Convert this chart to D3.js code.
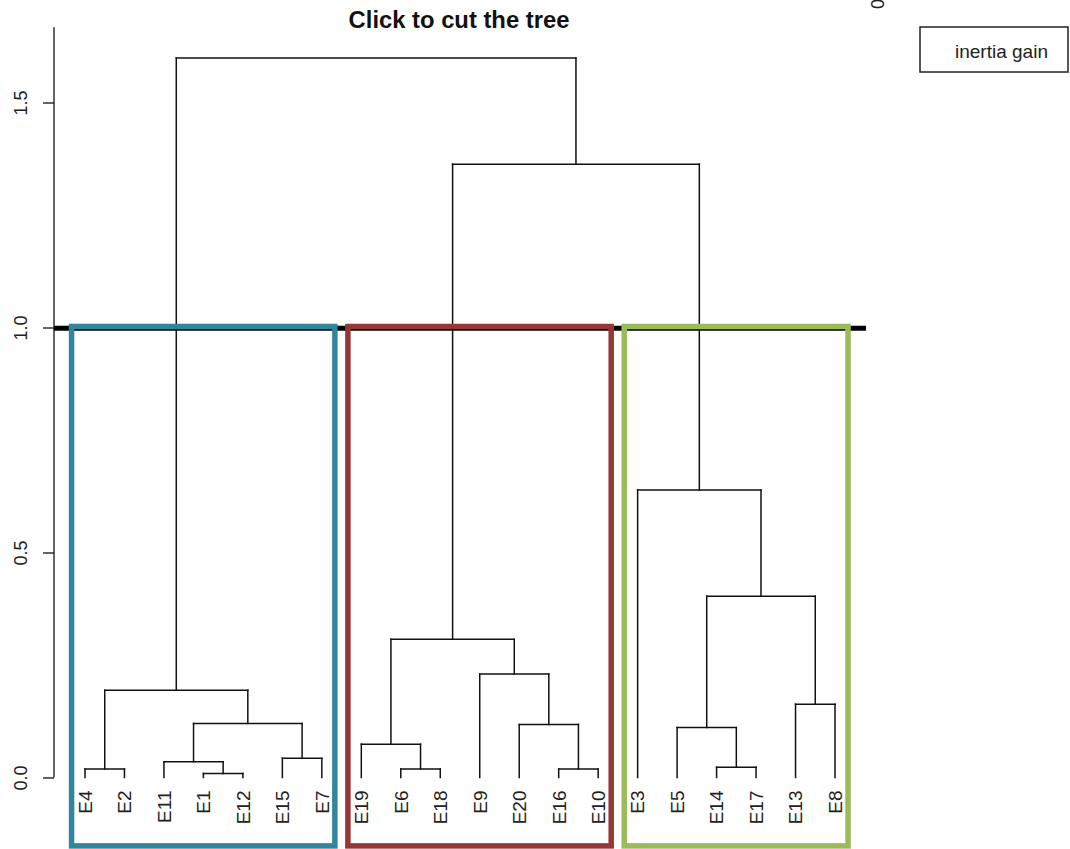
<!DOCTYPE html>
<html>
<head>
<meta charset="utf-8">
<script src="https://cdn.jsdelivr.net/npm/d3@7"></script>
<style>
  html, body { margin: 0; padding: 0; background: #fff; }
  svg { display: block; font-family: "Liberation Sans", Arial, sans-serif; }
</style>
</head>
<body>
<svg id="chart" width="1070" height="849"></svg>
<script>
// ---------- data ----------
const title = "Click to cut the tree";
const leaves = ["E4","E2","E11","E1","E12","E15","E7","E19","E6","E18","E9","E20","E16","E10","E3","E5","E14","E17","E13","E8"];
// merge table (R hclust style): children are leaf names or merge ids "n#"
const mergeIds    = ["n1","n2","n3","n4","n5","n6","n7","n8","n9","n10","n11","n12","n13","n14","n15","n16","n17","n18","n19"];
const mergeLeft   = ["E1","E6","E16","E4","E14","E11","E15","E19","E5","E20","n6","E13","n4","E9","n8","n9","E3","n15","n13"];
const mergeRight  = ["E12","E18","E10","E2","E17","n1","E7","n2","n5","n3","n7","E8","n11","n10","n14","n12","n16","n17","n18"];
const mergeHeight = [0.009,0.019,0.019,0.019,0.023,0.035,0.043,0.074,0.111,0.118,0.120,0.163,0.194,0.230,0.307,0.403,0.639,1.363,1.599];
const yTicks = [0.0, 0.5, 1.0, 1.5];
const cutHeight = 1.0;
const clusterFirst  = ["E4","E19","E3"];
const clusterLast   = ["E7","E10","E8"];
const clusterColors = ["#31859C","#953735","#9BBB59"];
const legendLabels  = ["inertia gain"];

// ---------- scales ----------
const svg = d3.select("#chart");
const plotLeft = 54, plotRight = 866;
const x = d3.scaleLinear().domain([-0.785, leaves.length - 1 + 0.785]).range([plotLeft, plotRight]);
const y = d3.scaleLinear().domain([0, 1]).range([777.5, 327.5]);
const yTop = 1.667, yBottom = -0.152;

// ---------- title ----------
svg.append("text")
  .attr("x", (plotLeft + plotRight) / 2 - 1).attr("y", 28)
  .attr("text-anchor", "middle")
  .attr("font-weight", "bold").attr("font-size", 23.8)
  .attr("fill", "#111")
  .text(title);

// ---------- y axis ----------
const yAxis = d3.axisLeft(y).tickValues(yTicks).tickFormat(d3.format(".1f")).tickSize(11).tickPadding(0);
const ga = svg.append("g").attr("transform", `translate(${plotLeft},0)`).call(yAxis);
ga.select(".domain").remove();
ga.selectAll(".tick line").attr("stroke", "#222").attr("stroke-width", 1.4);
ga.selectAll(".tick text").remove();
ga.append("line").attr("x1", 0).attr("x2", 0).attr("y1", y(yTop)).attr("y2", y(0))
  .attr("stroke", "#222").attr("stroke-width", 1.4);
ga.selectAll(".tick").append("text")
  .attr("transform", "translate(-33,0) rotate(-90)")
  .attr("text-anchor", "middle").attr("dy", "0.35em")
  .attr("font-size", 18).attr("fill", "#222").attr("font-family", "Liberation Sans, Arial, sans-serif")
  .text(d => d3.format(".1f")(d));

// ---------- dendrogram ----------
const pos = {};
leaves.forEach((l, i) => pos[l] = { x: i, h: 0 });
mergeIds.forEach((id, i) => {
  const a = pos[mergeLeft[i]], b = pos[mergeRight[i]];
  pos[id] = { x: (a.x + b.x) / 2, h: mergeHeight[i], a, b };
});
const segs = [];
mergeIds.forEach((id, i) => {
  const n = pos[id];
  segs.push([n.a.x, n.a.h, n.a.x, n.h]);
  segs.push([n.a.x, n.h, n.b.x, n.h]);
  segs.push([n.b.x, n.b.h, n.b.x, n.h]);
});
svg.append("g").selectAll("line").data(segs).join("line")
  .attr("x1", d => x(d[0])).attr("y1", d => y(d[1]))
  .attr("x2", d => x(d[2])).attr("y2", d => y(d[3]))
  .attr("stroke", "#111").attr("stroke-width", 1.5).attr("stroke-linecap", "square");

// leaf labels
svg.append("g").selectAll("text").data(leaves).join("text")
  .attr("transform", (d, i) => `translate(${x(i)},${y(0) + 13}) rotate(-90)`)
  .attr("text-anchor", "end").attr("dy", "0.36em")
  .attr("font-size", 19).attr("fill", "#222")
  .text(d => d);

// ---------- cut line ----------
svg.append("line")
  .attr("x1", x(-0.785)).attr("x2", x(leaves.length - 1 + 0.785))
  .attr("y1", y(cutHeight) + 0.8).attr("y2", y(cutHeight) + 0.8)
  .attr("stroke", "#000").attr("stroke-width", 5);

// ---------- cluster rectangles ----------
svg.append("g").selectAll("rect").data(clusterColors).join("rect")
  .attr("x", (c, i) => x(leaves.indexOf(clusterFirst[i]) - 0.34))
  .attr("width", (c, i) => x(leaves.indexOf(clusterLast[i]) + 0.33) - x(leaves.indexOf(clusterFirst[i]) - 0.34))
  .attr("y", y(cutHeight) - 1)
  .attr("height", y(yBottom) - y(cutHeight) + 1)
  .attr("fill", "none").attr("stroke", c => c).attr("stroke-width", 5.5);

// ---------- legend ----------
const lg = svg.append("g");
lg.append("rect").attr("x", 920).attr("y", 27).attr("width", 148).attr("height", 45)
  .attr("fill", "#fff").attr("stroke", "#222").attr("stroke-width", 1.5);
lg.selectAll("text").data(legendLabels).join("text")
  .attr("x", 955).attr("y", 58).attr("font-size", 19).attr("fill", "#222").text(d => d);

// clipped axis label at top right
svg.append("text")
  .attr("transform", "translate(878,4) rotate(-90)")
  .attr("text-anchor", "middle").attr("dy", "0.35em")
  .attr("font-size", 18).attr("fill", "#222")
  .text("0");
</script>
</body>
</html>
